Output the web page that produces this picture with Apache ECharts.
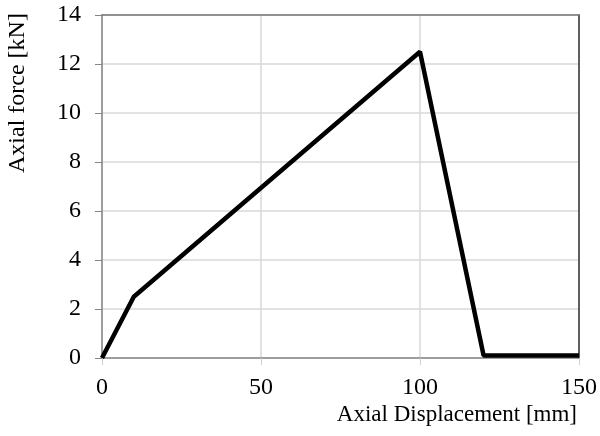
<!DOCTYPE html>
<html>
<head>
<meta charset="utf-8">
<script src="https://cdn.jsdelivr.net/npm/echarts@6/dist/echarts.min.js"></script>
<style>html,body{margin:0;padding:0;background:#fff;}#c{width:600px;height:436px;}</style>
</head>
<body>
<div id="c"></div>
<script>
var displacement = [0, 10, 100, 120, 150];
var force = [0, 2.5, 12.5, 0.1, 0.1];
var xTitle = 'Axial Displacement [mm]';
var yTitle = 'Axial force [kN]';

var pts = displacement.map(function (d, i) { return [d, force[i]]; });
var font = '"Liberation Serif", "Times New Roman", serif';
var chart = echarts.init(document.getElementById('c'), null, {renderer: 'canvas'});
chart.setOption({
  animation: false,
  backgroundColor: '#fff',
  grid: {left: 102, right: 21, top: 15, bottom: 78, containLabel: false},
  xAxis: [{
    type: 'value', min: 0, max: 150, interval: 50,
    axisLine: {show: true, onZero: false, lineStyle: {color: '#868686', width: 1.5}},
    axisTick: {show: true, length: 7, lineStyle: {color: '#d0d0d0'}},
    splitLine: {show: true, lineStyle: {color: '#d9d9d9', width: 1.5}},
    axisLabel: {color: '#000', fontFamily: font, fontSize: 24, margin: 18}
  }, {
    type: 'value', position: 'top', min: 0, max: 150, interval: 50,
    axisLine: {show: true, onZero: false, lineStyle: {color: '#777', width: 1.5}},
    axisTick: {show: false}, axisLabel: {show: false}, splitLine: {show: false}
  }],
  yAxis: [{
    type: 'value', min: 0, max: 14, interval: 2,
    axisLine: {show: true, onZero: false, lineStyle: {color: '#868686', width: 1.5}},
    axisTick: {show: true, length: 7, lineStyle: {color: '#868686'}},
    splitLine: {show: true, lineStyle: {color: '#d9d9d9', width: 1.5}},
    axisLabel: {color: '#000', fontFamily: font, fontSize: 24, margin: 21}
  }, {
    type: 'value', position: 'right', min: 0, max: 14, interval: 2,
    axisLine: {show: true, onZero: false, lineStyle: {color: '#333', width: 1.5}},
    axisTick: {show: false}, axisLabel: {show: false}, splitLine: {show: false}
  }],
  series: [{
    type: 'line', data: pts, showSymbol: false, symbol: 'none',
    lineStyle: {color: '#000', width: 4.5}, z: 5
  }],
  graphic: [{
    type: 'text', right: 23, top: 403,
    style: {text: xTitle, font: '23px ' + font, fill: '#000'}
  }, {
    type: 'text', x: 6, y: 173, rotation: Math.PI / 2,
    style: {text: yTitle, font: '24px ' + font, fill: '#000', textAlign: 'left', textVerticalAlign: 'top'}
  }]
});
</script>
</body>
</html>
